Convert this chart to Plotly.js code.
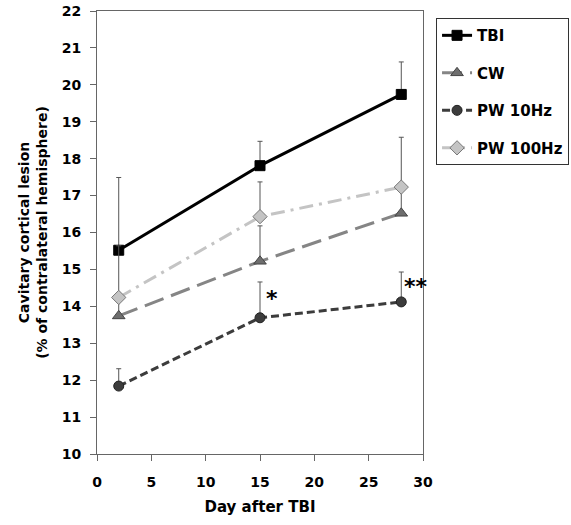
<!DOCTYPE html>
<html><head><meta charset="utf-8">
<script src="https://cdn.plot.ly/plotly-3.0.1.min.js"></script>
<style>html,body{margin:0;padding:0;background:#fff}#chart{width:571px;height:525px}</style>
</head><body><div id="chart"></div>
<script>
const days = [2, 15, 28];
const seriesNames = ["TBI", "CW", "PW 10Hz", "PW 100Hz"];
const tbi = [15.52, 17.81, 19.74];
const tbiErr = [1.97, 0.66, 0.88];
const cw = [13.74, 15.22, 16.52];
const cwErr = [0.6, 0.96, 0.8];
const pw10 = [11.84, 13.69, 14.12];
const pw10Err = [0.47, 0.97, 0.81];
const pw100 = [14.24, 16.43, 17.23];
const pw100Err = [1.4, 0.94, 1.35];
const starX = [16.1, 29.4];
const starY = [14.2, 14.55];
const starText = ["*", "**"];
const xTicks = [0, 5, 10, 15, 20, 25, 30];
const yTicks = [10, 11, 12, 13, 14, 15, 16, 17, 18, 19, 20, 21, 22];

const F = "DejaVu Sans, Liberation Sans, Arial, sans-serif";
const zeros = days.map(() => 0);
function tr(name, y, err, color, dash, symbol, mcolor, mline, msize, group) {
  return {
    x: days, y: y, name: name, type: "scatter", mode: "lines+markers",
    legendgroup: group,
    line: {color: color, width: 3, dash: dash},
    marker: {symbol: symbol, size: msize, color: mcolor, line: {color: mline, width: 1}},
    error_y: {type: "data", symmetric: false, array: err, arrayminus: zeros,
              color: "#555", thickness: 1, width: 2.5}
  };
}
const data = [
  tr(seriesNames[0], tbi, tbiErr, "#000000", "solid", "square", "#000000", "#000000", 10, "a"),
  tr(seriesNames[1], cw, cwErr, "#858585", "20px,8px", "triangle-up", "#6e6e6e", "#444", 11, "b"),
  tr(seriesNames[2], pw10, pw10Err, "#3c3c3c", "8px,4px", "circle", "#3c3c3c", "#222", 10, "c"),
  tr(seriesNames[3], pw100, pw100Err, "#c4c4c4", "14px,6px,3px,6px", "diamond", "#c4c4c4", "#777", 11, "d")
];
const layout = {
  width: 571, height: 525,
  margin: {l: 97, r: 148, t: 11, b: 71, autoexpand: false},
  paper_bgcolor: "#fff", plot_bgcolor: "#fff",
  font: {family: F, color: "#000"},
  showlegend: true,
  legend: {x: 1.04, y: 0.984, xanchor: "left", yanchor: "top",
           bordercolor: "#333", borderwidth: 1, bgcolor: "#fff",
           traceorder: "grouped", tracegroupgap: 15,
           font: {family: F, size: 15, weight: 700, color: "#000"}},
  xaxis: {range: [0, 30], tickvals: xTicks, ticks: "outside", ticklen: 6, ticklabelstandoff: 9,
          tickcolor: "#666", showline: true, linecolor: "#666", linewidth: 1, mirror: true,
          showgrid: false, zeroline: false,
          tickfont: {family: F, size: 14, weight: 700, color: "#000"},
          title: {text: "Day after TBI", standoff: 12, font: {family: F, size: 15, weight: 700, color: "#000"}}},
  yaxis: {range: [10, 22], tickvals: yTicks, ticks: "outside", ticklen: 6, ticklabelstandoff: 6,
          tickcolor: "#666", showline: true, linecolor: "#666", linewidth: 1, mirror: true,
          showgrid: false, zeroline: false,
          tickfont: {family: F, size: 14, weight: 700, color: "#000"},
          title: {text: "Cavitary cortical lesion<br>(% of contralateral hemisphere)", standoff: 10,
                  font: {family: F, size: 14, weight: 700, color: "#000"}}},
  annotations: starX.map((x, i) => ({x: x, y: starY[i], text: starText[i], showarrow: false,
    xref: "x", yref: "y", font: {family: F, size: 22, weight: 700, color: "#000"}}))
};
Plotly.newPlot("chart", data, layout, {staticPlot: true});
</script></body></html>
